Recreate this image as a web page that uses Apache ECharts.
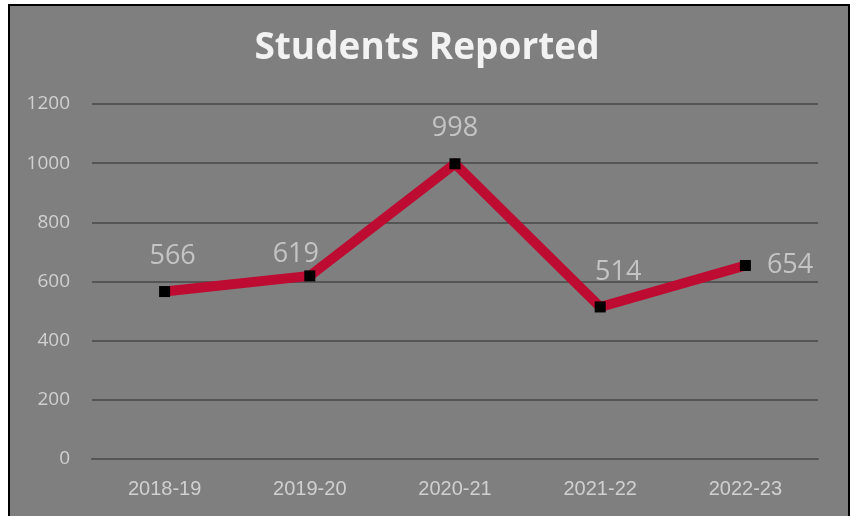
<!DOCTYPE html>
<html>
<head>
<meta charset="utf-8">
<script src="https://cdn.jsdelivr.net/npm/echarts@6/dist/echarts.min.js"></script>
<style>
  html, body { margin: 0; padding: 0; background: #ffffff; }
  #frame { position: absolute; left: 8px; top: 4px; width: 838px; height: 520px;
           border: 2px solid #000; background: #7f7f7f; }
  #chart { position: absolute; left: 0; top: 0; width: 854px; height: 516px; }
</style>
</head>
<body>
<div id="frame"></div>
<div id="chart"></div>
<script>
const titleText = "Students Reported";
const categories = ["2018-19", "2019-20", "2020-21", "2021-22", "2022-23"];
const studentsReported = [566, 619, 998, 514, 654];
const yTicks = [0, 200, 400, 600, 800, 1000, 1200];

const labelOffsets = [[8, 0], [-14, 13], [0, 0], [18, 0], [0, 0]];

const chart = echarts.init(document.getElementById('chart'), null, { renderer: 'canvas' });
chart.setOption({
  backgroundColor: 'transparent',
  animation: false,
  title: {
    text: titleText,
    left: 'center',
    top: 25,
    textStyle: { color: '#f2f2f2', fontSize: 37, fontWeight: 'bold', fontFamily: 'Open Sans' }
  },
  grid: { left: 92, right: 36, top: 104, bottom: 57 },
  xAxis: {
    type: 'category',
    data: categories,
    boundaryGap: true,
    axisLine: { lineStyle: { color: '#555555', width: 2 } },
    axisTick: { show: false },
    axisLabel: { color: '#d0d0d0', fontSize: 20, margin: 20, fontFamily: '"Liberation Sans", Arial' }
  },
  yAxis: {
    type: 'value',
    min: yTicks[0],
    max: yTicks[yTicks.length - 1],
    interval: 200,
    axisLine: { show: false },
    axisTick: { show: false },
    splitLine: { lineStyle: { color: '#555555', width: 2 } },
    axisLabel: { color: '#d0d0d0', fontSize: 19, margin: 22, fontFamily: 'Open Sans',
                 formatter: v => String(v) }
  },
  series: [{
    type: 'line',
    data: studentsReported.map((v, i) => {
      const lab = i === 4
        ? { position: 'right', distance: 16 }
        : { position: 'top', distance: 16, offset: labelOffsets[i] };
      return { value: v, label: lab };
    }),
    symbol: 'rect',
    symbolSize: 11,
    itemStyle: { color: '#000000' },
    lineStyle: { color: '#be0b31', width: 10, cap: 'round', join: 'round' },
    label: { show: true, color: '#c4c4c4', fontSize: 27, fontFamily: 'Open Sans' },
    z: 3
  }]
});
</script>
</body>
</html>
